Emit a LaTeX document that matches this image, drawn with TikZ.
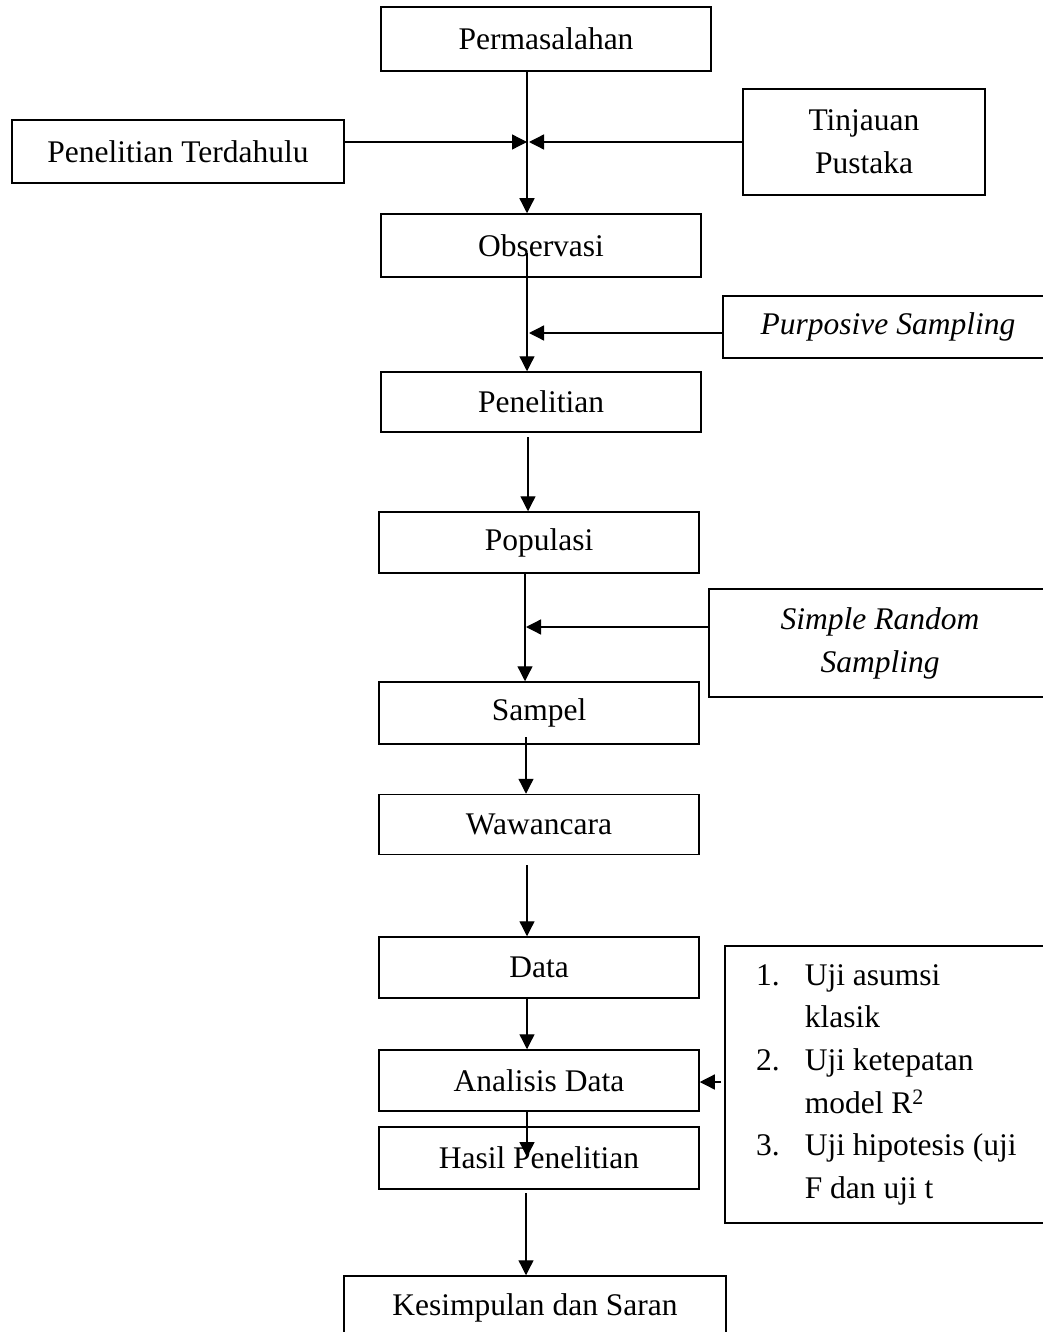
\documentclass[tikz,border=0pt]{standalone}
\usepackage{fontspec}
\setmainfont{Liberation Serif}
\usetikzlibrary{arrows.meta}
\begin{document}
\begin{tikzpicture}[x=1pt,y=-1pt,
  box/.style={draw, line width=1.5pt, inner sep=0pt, align=center,
    font=\fontsize{31.5}{43}\selectfont},
  txt/.style={inner sep=0pt, font=\fontsize{31.5}{42.7}\selectfont},
  arr/.style={line width=1.3pt, -{Triangle[length=15pt,width=15pt]}},
  ln/.style={line width=1.3pt}]
\useasboundingbox (0,0) rectangle (1043,1332);

\node[box, minimum width=330pt, minimum height=64pt] (perm) at (546,39) {Permasalahan};
\node[box, minimum width=332pt, minimum height=63pt] (pt) at (178,151.5) {Penelitian Terdahulu};
\node[box, minimum width=242pt, minimum height=106pt] (tp) at (864,142) {Tinjauan\\Pustaka};
\node[box, minimum width=320pt, minimum height=63pt] (obs) at (541,245.5) {Observasi};
\node[box, minimum width=330pt, minimum height=62pt] (purp) at (888,327) {\itshape Purposive Sampling};
\node[box, minimum width=320pt, minimum height=60pt] (pen) at (541,402) {Penelitian};
\node[box, minimum width=320pt, minimum height=61pt] (pop) at (539,542.5) {Populasi};
\node[box, minimum width=342pt, minimum height=108pt] (srs) at (880,643) {\itshape Simple Random\\\itshape Sampling};
\node[box, minimum width=320pt, minimum height=62pt] (samp) at (539,713) {Sampel};
\node[box, minimum width=320pt, minimum height=60pt] (waw) at (539,824.5) {Wawancara};
\node[box, minimum width=320pt, minimum height=61pt] (data) at (539,967.5) {Data};
\node[box, minimum width=320pt, minimum height=61pt] (ana) at (539,1080.5) {Analisis Data};
\node[box, minimum width=320pt, minimum height=62pt] (has) at (539,1158) {Hasil Penelitian};
\node[box, minimum width=382pt, minimum height=64pt] (kes) at (535,1308) {Kesimpulan dan Saran};
\node[box, minimum width=330pt, minimum height=277pt] (list) at (890,1084.5) {};
\node[txt, anchor=base west] (listtxt) at (756,985) {%
  \begin{tabular}[t]{@{}l@{\hspace{25pt}}l@{}}
  1. & Uji asumsi\\
     & klasik\\
  2. & Uji ketepatan\\
     & model R\textsuperscript{2}\\
  3. & Uji hipotesis (uji\\
     & F dan uji t
  \end{tabular}};

% junction
\coordinate (jl) at (527,142);
\coordinate (jr) at (529,142);
\draw[arr] (perm.south -| jl) -- (obs.north -| jl);
\draw[arr] (pt.east |- jl) -- (jl);
\draw[arr] (tp.west |- jr) -- (jr);

% observasi -> penelitian
\coordinate (o1) at (527,253);
\coordinate (pa) at (529,333);
\draw[arr] (o1) -- (pen.north -| o1);
\draw[arr] (purp.west |- pa) -- (pa);

% penelitian -> populasi
\coordinate (p1) at (528,437);
\draw[arr] (p1) -- (pop.north -| p1);

% populasi -> sampel
\coordinate (s1) at (525,600);
\coordinate (sa) at (526,627);
\draw[arr] (pop.south -| s1) -- (samp.north -| s1);
\draw[arr] (srs.west |- sa) -- (sa);

% sampel -> wawancara
\coordinate (w1) at (526,737);
\draw[arr] (w1) -- (waw.north -| w1);

% wawancara -> data
\coordinate (d1) at (527,865);
\draw[arr] (d1) -- (data.north -| d1);

% data -> analisis
\draw[arr] (data.south -| d1) -- (ana.north -| d1);

% analisis -> hasil
\coordinate (h1) at (527,1157);
\draw[arr] (ana.south -| h1) -- (h1);

% list -> analisis
\coordinate (la) at (721,1082);
\draw[arr] (la) -- (ana.east |- la);

% hasil -> kesimpulan
\coordinate (k1) at (526,1193);
\draw[arr] (k1) -- (kes.north -| k1);
\end{tikzpicture}
\end{document}
